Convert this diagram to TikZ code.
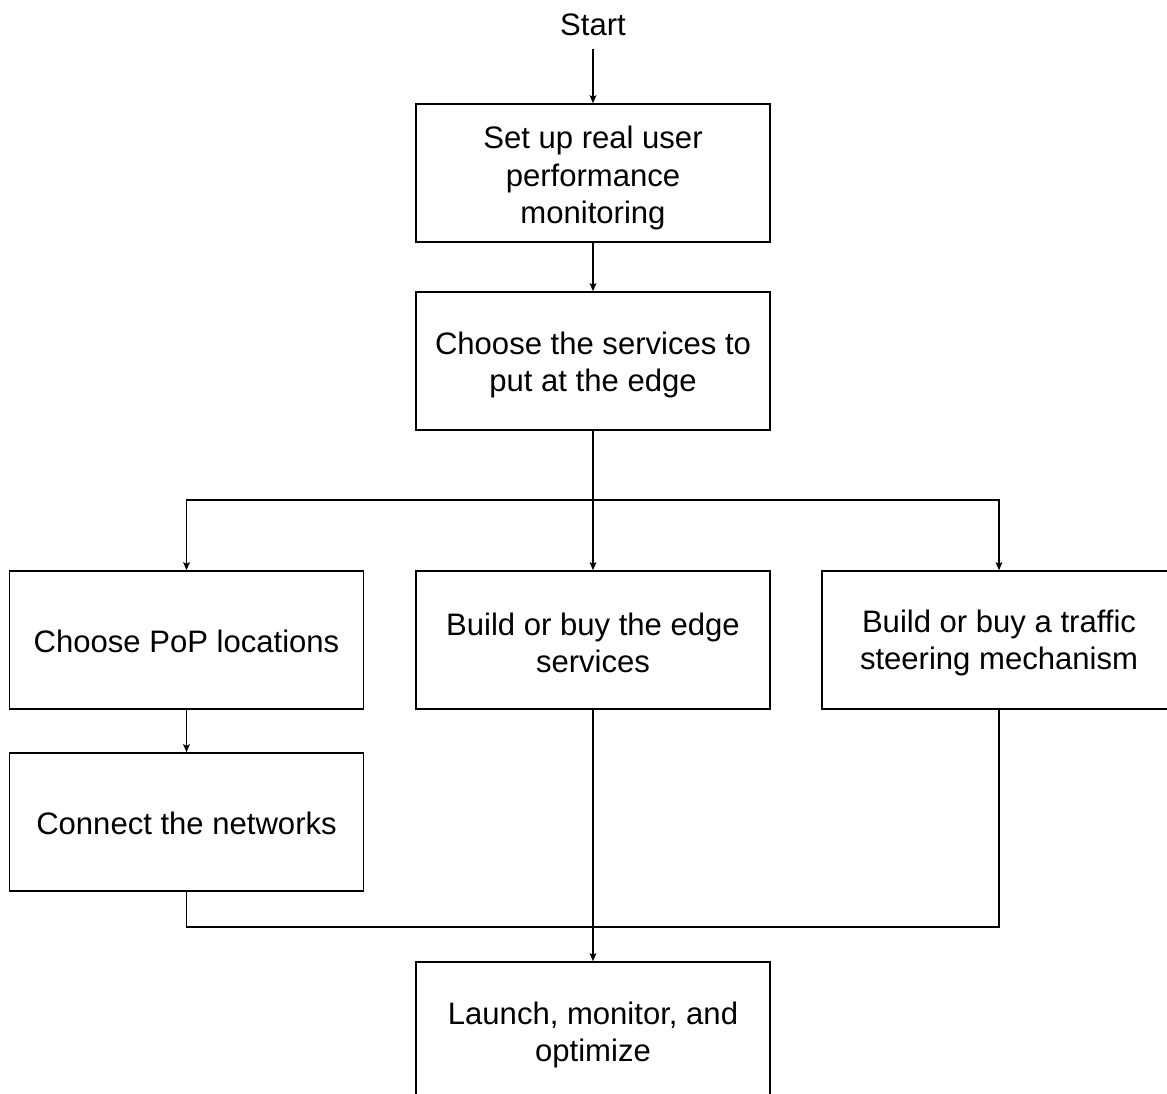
\documentclass[tikz,border=0pt]{standalone}
\usepackage{fontspec}
\setmainfont{Liberation Sans}
\usetikzlibrary{arrows.meta}
\begin{document}
\begin{tikzpicture}[x=0.75pt,y=-0.75pt,
  box/.style={draw=black,line width=1.1pt,minimum width=265.5pt,minimum height=103.5pt,inner sep=0pt},
  boxtext/.style={align=center,inner sep=0pt,font=\fontsize{23.3}{27.8}\selectfont},
  conn/.style={line width=1.1pt},
  arr/.style={conn,-{Stealth[length=6pt,width=5pt,inset=1.2pt]}},
  lbl/.style={font=\fontsize{23.3}{27.8}\selectfont,inner sep=0pt}]
\useasboundingbox (0,0) rectangle (1167,1094);
\clip (0,0) rectangle (1167,1094);
\fill[white] (0,0) rectangle (1167,1094);
\node[lbl] (start) at (593,25) {Start};
\coordinate (startend) at (593,49);
\node[box] (b1) at (593,173) {};
\node[boxtext] (b1t) at (593,178) {Set up real user\\performance\\monitoring};
\node[box] (b2) at (593,361) {};
\node[boxtext] (b2t) at (593,365) {Choose the services to\\put at the edge};
\node[box] (pop) at (186.5,640) {};
\node[boxtext] (popt) at (186.5,641) {Choose PoP locations};
\node[box] (edge) at (593,640) {};
\node[boxtext] (edget) at (593,643) {Build or buy the edge\\services};
\node[box] (steer) at (999,640) {};
\node[boxtext] (steert) at (999,643) {Build or buy a traffic\\steering mechanism};
\node[box] (net) at (186.5,822) {};
\node[boxtext] (nett) at (186.5,823) {Connect the networks};
\node[box] (launch) at (593,1031) {};
\node[boxtext] (launcht) at (593,1035) {Launch, monitor, and\\optimize};
\coordinate (split) at (593,500);
\coordinate (merge) at (593,927);
\draw[arr] (startend) -- (b1.north);
\draw[arr] (b1.south) -- (b2.north);
\draw[arr] (b2.south) -- (edge.north);
\draw[arr] (split) -| (pop.north);
\draw[arr] (split) -| (steer.north);
\draw[arr] (pop.south) -- (net.north);
\draw[conn] (net.south) |- (merge);
\draw[conn] (steer.south) |- (merge);
\draw[arr] (edge.south) -- (launch.north);
\end{tikzpicture}
\end{document}
